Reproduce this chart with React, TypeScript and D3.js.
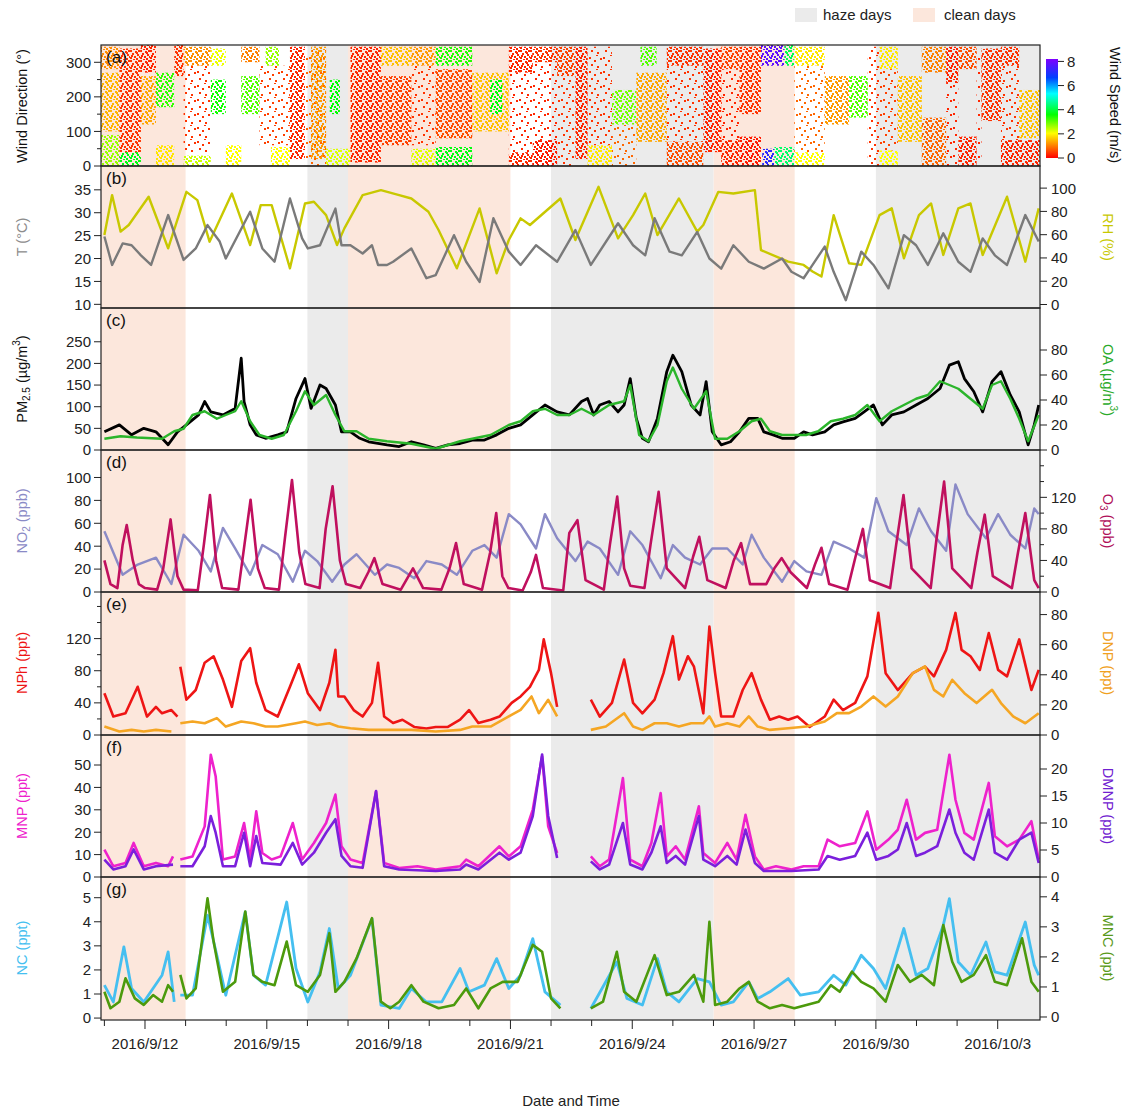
import React from 'react';
import * as d3 from 'd3';

type P = [number, number | null];

// ---------- time frame (day offsets counted from 2016-09-11 00:00) ----------
const START = new Date(2016, 8, 11, 0, 0);
const DOMAIN_START = new Date(2016, 8, 10, 22, 0);
const DOMAIN_END = new Date(2016, 9, 4, 1, 0);
const FIRST_MAJOR = new Date(2016, 8, 12);

const cleanPeriods: [number, number][] = [[-0.1, 2], [6, 10], [15, 17]];
const hazePeriods: [number, number][] = [[5, 6], [11, 15], [19, 23.1]];

// ---------- tick values ----------
const wdTicks = [0, 100, 200, 300];
const wdMinor = [50, 150, 250];
const tTicks = [10, 15, 20, 25, 30, 35];
const rhTicks = [0, 20, 40, 60, 80, 100];
const pmTicks = [0, 50, 100, 150, 200, 250];
const oaTicks = [0, 20, 40, 60, 80];
const no2Ticks = [0, 20, 40, 60, 80, 100];
const o3Ticks = [0, 40, 80, 120];
const o3Minor = [20, 60, 100, 140, 160];
const nphTicks = [0, 40, 80, 120];
const nphMinor = [20, 60, 100, 140, 160];
const dnpTicks = [0, 20, 40, 60, 80];
const mnpTicks = [0, 10, 20, 30, 40, 50];
const dmnpTicks = [0, 5, 10, 15, 20];
const ncTicks = [0, 1, 2, 3, 4, 5];
const mncTicks = [0, 1, 2, 3, 4];
const speedTicks = [0, 2, 4, 6, 8];
const speedStops = [0, 1, 2, 3.5, 5.2, 6.5, 8];
const speedColors = ['#ff0000', '#ff8000', '#ffff00', '#00ff00', '#00ffff', '#0040ff', '#7f00ff'];

// ---------- wind: dense clusters [dayStart, dayEnd, dirLow, dirHigh, speed m/s] ----------
const windSegments: [number, number, number, number, number][] = [
  [-0.1, 0.37, 0, 90, 2.6], [-0.1, 0.37, 100, 270, 1.4], [-0.1, 0.37, 280, 345, 1.1],
  [0.37, 0.9, 20, 340, 0.4], [0.37, 0.9, 0, 40, 3.6],
  [0.9, 1.27, 270, 350, 0.3], [0.9, 1.27, 120, 260, 1.3],
  [1.27, 1.72, 170, 270, 3.2], [1.27, 1.72, 0, 60, 1.8],
  [1.72, 1.95, 260, 350, 0.4],
  [1.95, 2.62, 290, 345, 1.1], [1.95, 2.62, 0, 30, 2.3],
  [2.62, 2.99, 150, 250, 3.4], [2.62, 2.99, 290, 340, 2.1],
  [2.99, 3.37, 0, 60, 2.0],
  [3.37, 3.82, 150, 260, 3.0], [3.37, 3.82, 300, 345, 1.0],
  [3.97, 4.3, 290, 345, 2.6], [4.1, 4.57, 0, 55, 2.0],
  [4.57, 4.94, 20, 345, 0.3],
  [5.09, 5.46, 20, 345, 1.2],
  [5.46, 6.06, 0, 50, 2.2], [5.55, 5.8, 150, 250, 3.5],
  [6.06, 6.81, 10, 345, 0.3],
  [6.81, 7.56, 290, 345, 1.5], [6.81, 7.56, 60, 260, 0.5],
  [7.56, 8.16, 290, 345, 1.2], [7.56, 8.16, 0, 50, 2.2],
  [8.16, 9.06, 290, 345, 3.3], [8.16, 9.06, 0, 55, 3.6], [8.16, 9.06, 80, 280, 0.6],
  [9.06, 9.96, 100, 270, 1.5], [9.5, 9.8, 150, 250, 3.5],
  [9.96, 10.55, 270, 345, 0.3], [9.96, 10.55, 0, 40, 0.3],
  [10.55, 11.15, 0, 75, 0.2], [10.55, 11.15, 300, 345, 0.4],
  [11.15, 11.6, 260, 345, 0.5], [11.6, 11.9, 20, 345, 0.3],
  [11.9, 12.5, 0, 60, 1.8],
  [12.5, 13.1, 120, 220, 2.8],
  [13.1, 13.85, 70, 270, 1.3], [13.2, 13.6, 290, 345, 3.0],
  [13.85, 14.75, 290, 345, 0.4], [13.85, 14.75, 0, 70, 0.6],
  [14.75, 15.19, 40, 340, 0.3],
  [15.19, 15.64, 0, 75, 0.3], [15.19, 15.64, 280, 345, 0.5],
  [15.64, 16.17, 0, 85, 0.2], [15.64, 16.17, 150, 345, 0.4],
  [16.17, 16.75, 290, 350, 7.6], [16.75, 16.99, 290, 350, 4.0],
  [16.2, 16.5, 0, 50, 7.0], [16.5, 16.99, 0, 55, 4.2],
  [16.99, 17.74, 290, 345, 1.8], [16.99, 17.74, 0, 40, 2.0],
  [17.74, 18.34, 120, 260, 1.2], [18.34, 18.8, 140, 260, 3.0],
  [19.09, 19.54, 280, 345, 1.8], [19.09, 19.54, 0, 45, 2.0],
  [19.54, 20.13, 70, 260, 1.5],
  [20.13, 20.73, 270, 345, 1.0], [20.13, 20.73, 0, 140, 0.8],
  [20.73, 21.03, 240, 345, 0.3],
  [21.03, 21.48, 0, 85, 0.3], [21.03, 21.48, 280, 345, 0.6],
  [21.6, 22.08, 130, 340, 0.4],
  [22.08, 22.53, 290, 345, 0.4], [22.08, 22.53, 0, 75, 0.3],
  [22.53, 23.1, 80, 220, 1.5], [22.53, 23.1, 0, 75, 0.3],
];
// ---------- wind: thinly scattered points, same layout ----------
const windSparse: [number, number, number, number, number][] = [
  [1.95, 2.62, 40, 290, 0.4], [3.82, 4.57, 60, 290, 0.5], [4.94, 5.46, 0, 345, 0.8],
  [7.56, 8.16, 60, 290, 0.4], [9.96, 10.55, 40, 270, 0.3], [10.55, 11.15, 75, 300, 0.3],
  [11.15, 11.6, 0, 260, 0.4], [11.9, 12.5, 60, 345, 0.4], [12.5, 13.1, 0, 120, 0.8],
  [13.85, 14.75, 70, 290, 0.4], [15.19, 15.64, 75, 280, 0.3], [16.99, 17.74, 40, 290, 0.8],
  [18.8, 19.09, 0, 345, 0.4], [19.09, 19.54, 45, 280, 0.5], [20.73, 21.03, 0, 240, 0.3],
  [21.48, 21.6, 0, 345, 0.3], [22.08, 22.53, 75, 290, 0.4],
];

// ---------- (b) T (°C), RH (%) ----------
const tempC: P[] = [[0,24.8],[0.19,18.6],[0.45,23.3],[0.67,22.9],[0.9,20.7],[1.15,18.6],[1.57,29.5],[1.95,19.7],[2.25,22.2],[2.54,27.3],[2.84,23.7],[2.99,20],[3.59,30.2],[3.89,22.2],[4.19,19.3],[4.57,33.1],[4.87,24.4],[5.01,22.2],[5.31,22.9],[5.69,30.9],[5.84,22.9],[6.06,22.9],[6.36,21.1],[6.59,22.9],[6.74,18.6],[6.96,18.6],[7.11,19.3],[7.56,22.2],[7.93,15.7],[8.16,16.4],[8.61,25.1],[8.91,19.3],[9.24,14.9],[9.58,28.8],[9.96,21.5],[10.25,18.6],[10.63,22.9],[11.15,19.3],[11.6,26.2],[11.98,18.6],[12.65,27.7],[13.02,22.9],[13.32,20.7],[13.55,28.8],[13.92,21.5],[14.22,20.7],[14.6,25.8],[14.9,20],[15.19,17.8],[15.49,22.9],[15.87,19.3],[16.24,17.8],[16.69,20],[16.92,17.1],[17.22,15.7],[17.44,18.6],[17.74,22.6],[17.96,17.1],[18.26,10.9],[18.64,21.5],[18.94,18.6],[19.31,13.5],[19.69,25.1],[19.99,22.9],[20.28,18.6],[20.66,25.5],[21.03,19.3],[21.33,17.1],[21.63,24.4],[21.93,20.7],[22.23,18.6],[22.68,29.5],[23.01,23.7]];
const rhPct: P[] = [[0,59.7],[0.19,94],[0.4,62.6],[0.6,68.3],[1.09,92.6],[1.57,48.3],[2.02,96.8],[2.29,89.7],[2.59,54],[3.14,95.4],[3.59,51.1],[3.85,85.4],[4.12,85.4],[4.57,31.1],[4.94,86.8],[5.16,88.3],[5.46,76.8],[5.73,51.1],[5.91,65.4],[6.36,94],[6.81,98.3],[7.26,94],[7.56,91.1],[7.98,79.7],[8.23,64],[8.68,31.1],[9.24,82.6],[9.66,26.8],[9.96,55.4],[10.25,74],[10.48,68.3],[11.23,91.1],[11.6,55.4],[12.17,101.1],[12.65,56.8],[13.02,76.8],[13.32,95.4],[13.62,59.7],[14.15,91.1],[14.6,62.6],[14.75,68.3],[15.12,96.8],[15.49,95.4],[16.02,98.3],[16.17,46.8],[16.84,36.8],[17.22,34],[17.44,28.3],[17.66,24],[17.96,76.8],[18.34,35.4],[18.64,34],[19.09,76.8],[19.39,82.6],[19.69,39.7],[20.06,76.8],[20.36,86.8],[20.66,42.6],[21.03,82.6],[21.33,86.8],[21.63,42.6],[22.23,92.6],[22.68,36.8],[23.01,82.6]];

// ---------- (c) PM2.5, OA (µg/m3) ----------
const pm25: P[] = [[0,42],[0.37,58],[0.67,35],[0.97,50],[1.27,42],[1.57,12],[1.8,42],[2.02,58],[2.32,81],[2.47,112],[2.62,88],[2.92,81],[3.22,96],[3.37,212],[3.44,112],[3.59,58],[3.74,35],[3.97,27],[4.27,35],[4.49,42],[4.72,119],[4.94,165],[5.09,96],[5.31,150],[5.46,142],[5.69,104],[5.84,42],[6.06,42],[6.29,27],[6.51,19],[6.96,12],[7.26,8],[7.56,19],[7.86,12],[8.16,4],[8.46,12],[8.76,15],[9.06,23],[9.36,23],[9.66,35],[9.96,50],[10.25,58],[10.55,81],[10.85,104],[11.15,88],[11.45,81],[11.75,112],[11.9,119],[12.05,81],[12.2,104],[12.43,112],[12.65,88],[12.8,104],[12.95,165],[13.1,73],[13.25,27],[13.4,19],[13.62,73],[13.85,181],[14,219],[14.22,181],[14.45,104],[14.67,81],[14.82,158],[14.97,42],[15.19,12],[15.42,19],[15.64,42],[15.87,73],[16.09,73],[16.24,42],[16.47,35],[16.69,27],[16.99,27],[17.22,42],[17.44,35],[17.74,42],[17.96,58],[18.19,65],[18.49,73],[18.71,88],[18.94,104],[19.16,58],[19.39,81],[19.69,88],[19.99,104],[20.28,119],[20.58,142],[20.81,196],[21.03,204],[21.18,165],[21.41,135],[21.63,88],[21.86,158],[22.08,181],[22.31,127],[22.53,88],[22.75,12],[22.9,58],[23.01,104]];
const oaConc: P[] = [[0,9],[0.4,11],[0.8,10],[1.42,9],[1.72,15],[1.95,17],[2.17,28],[2.47,31],[2.77,25],[2.99,28],[3.22,31],[3.37,39],[3.59,23],[3.82,12],[4.12,9],[4.42,12],[4.72,31],[4.94,47],[5.16,36],[5.46,44],[5.69,28],[5.91,15],[6.21,15],[6.51,9],[6.96,7],[7.56,5],[8.16,1],[8.76,7],[9.06,9],[9.51,12],[9.96,20],[10.25,23],[10.55,31],[10.85,33],[11.15,28],[11.45,28],[11.75,33],[12.05,28],[12.43,36],[12.8,39],[12.95,52],[13.17,12],[13.4,7],[13.62,20],[13.85,55],[14,66],[14.22,49],[14.52,33],[14.82,47],[15.04,9],[15.34,9],[15.64,15],[15.94,23],[16.17,25],[16.39,15],[16.69,12],[16.99,12],[17.28,12],[17.58,15],[17.89,23],[18.19,25],[18.49,28],[18.79,36],[19.09,23],[19.39,31],[19.69,36],[19.99,41],[20.28,44],[20.58,55],[20.81,52],[21.03,49],[21.33,41],[21.63,33],[21.86,52],[22.08,55],[22.31,41],[22.53,25],[22.75,7],[23.01,28]];

// ---------- (d) NO2, O3 (ppb) ----------
const no2: P[] = [[0,53],[0.45,15],[0.82,24],[1.27,30],[1.65,7],[1.95,50],[2.32,36],[2.62,18],[2.92,56],[3.22,38],[3.59,15],[3.89,41],[4.27,33],[4.64,9],[4.94,36],[5.24,27],[5.61,9],[5.91,24],[6.21,33],[6.66,15],[6.96,24],[7.26,21],[7.63,12],[7.93,27],[8.31,24],[8.68,15],[9.06,36],[9.36,41],[9.66,30],[9.96,68],[10.25,59],[10.63,38],[10.85,68],[11.15,47],[11.6,27],[11.9,44],[12.2,38],[12.65,15],[12.95,53],[13.25,41],[13.7,12],[14,41],[14.3,30],[14.67,24],[14.97,38],[15.34,38],[15.72,24],[15.94,50],[16.24,30],[16.69,9],[16.99,27],[17.29,18],[17.66,15],[17.96,44],[18.34,38],[18.71,30],[19.01,82],[19.31,53],[19.76,41],[20.06,73],[20.36,53],[20.73,36],[20.96,94],[21.26,68],[21.71,47],[22.01,68],[22.31,50],[22.68,38],[22.9,73],[23.01,68]];
const o3: P[] = [[0,40],[0.15,10],[0.32,5],[0.45,60],[0.55,85],[0.7,40],[0.85,10],[1,5],[1.3,3],[1.45,30],[1.63,92],[1.8,20],[1.95,3],[2.3,2],[2.45,60],[2.6,123],[2.75,40],[2.9,5],[3.3,3],[3.45,60],[3.6,117],[3.78,30],[3.95,5],[4.3,3],[4.45,70],[4.62,142],[4.8,50],[4.95,10],[5.3,5],[5.45,80],[5.62,134],[5.8,40],[5.95,10],[6.3,5],[6.5,25],[6.65,43],[6.85,10],[7.3,3],[7.6,30],[7.85,5],[8.3,3],[8.5,30],[8.66,62],[8.85,10],[9.3,3],[9.5,50],[9.65,100],[9.8,20],[9.95,5],[10.3,2],[10.5,25],[10.63,47],[10.8,5],[11.3,2],[11.45,75],[11.65,91],[11.85,15],[12.3,3],[12.45,60],[12.63,121],[12.8,30],[12.95,8],[13.3,5],[13.45,60],[13.65,127],[13.85,30],[14.3,5],[14.5,45],[14.65,70],[14.85,15],[15.3,5],[15.5,40],[15.68,62],[15.9,10],[16.3,10],[16.5,30],[16.68,43],[16.9,25],[17.3,5],[17.5,35],[17.66,56],[17.85,10],[18.3,3],[18.5,45],[18.68,80],[18.85,15],[19.35,5],[19.5,60],[19.68,123],[19.88,30],[20.35,5],[20.5,70],[20.68,140],[20.88,30],[21.35,5],[21.5,50],[21.68,98],[21.88,20],[22.35,5],[22.5,50],[22.68,100],[22.9,15],[23.01,5]];

// ---------- (e) NPh, DNP (ppt) ----------
const nph: P[] = [[0,52],[0.22,23],[0.52,27],[0.82,60],[1.05,23],[1.27,35],[1.42,27],[1.65,31],[1.8,23],[1.84,null],[1.87,85],[2.02,44],[2.25,56],[2.47,90],[2.69,98],[2.92,69],[3.14,35],[3.37,92],[3.59,108],[3.74,65],[3.97,31],[4.27,23],[4.57,60],[4.79,88],[5.01,52],[5.31,31],[5.54,65],[5.69,106],[5.76,48],[5.91,48],[6.14,31],[6.36,23],[6.59,40],[6.74,90],[6.89,23],[7.11,15],[7.34,19],[7.63,10],[7.93,8],[8.16,10],[8.46,10],[8.76,19],[8.98,31],[9.21,15],[9.51,19],[9.73,23],[10.03,40],[10.25,48],[10.48,60],[10.7,81],[10.82,119],[11,77],[11.15,35],[11.5,null],[11.98,44],[12.2,23],[12.5,40],[12.8,94],[13.02,40],[13.25,27],[13.55,44],[13.77,77],[14,123],[14.15,69],[14.37,98],[14.52,85],[14.75,27],[14.9,135],[15.04,77],[15.19,23],[15.49,23],[15.72,56],[15.94,77],[16.17,44],[16.39,19],[16.62,23],[16.84,19],[17.07,23],[17.37,10],[17.74,23],[17.96,44],[18.19,31],[18.49,40],[18.79,73],[19.06,152],[19.24,77],[19.54,56],[19.91,77],[20.21,85],[20.43,73],[20.73,106],[20.96,152],[21.11,106],[21.33,98],[21.56,81],[21.78,127],[22.01,81],[22.23,73],[22.53,119],[22.83,56],[23.01,81]];
const dnp: P[] = [[0,5.6],[0.37,2.3],[0.67,3.4],[0.97,2.3],[1.27,3.4],[1.65,2.3],[1.84,null],[1.87,7.8],[2.17,9],[2.47,7.8],[2.77,11.2],[2.99,5.6],[3.37,9],[3.67,7.8],[3.97,5.6],[4.27,5.6],[4.72,7.8],[4.94,9],[5.24,6.7],[5.54,7.8],[5.76,5.6],[6.06,4.5],[6.51,3.4],[6.96,3.4],[7.56,3.4],[8.16,2.3],[8.76,3.4],[9.06,5.6],[9.51,5.6],[9.96,12.3],[10.25,16.7],[10.52,25.6],[10.7,14.5],[10.93,23.4],[11.15,12.3],[11.5,null],[11.98,3.4],[12.35,5.6],[12.8,14.5],[13.02,5.6],[13.25,3.4],[13.55,7.8],[13.85,7.8],[14.15,5.6],[14.45,7.8],[14.75,7.8],[14.9,12.3],[15.04,5.6],[15.34,7.8],[15.64,5.6],[15.87,12.3],[16.09,5.6],[16.39,3.4],[16.84,4.5],[17.29,5.6],[17.74,9],[18.04,14.5],[18.34,14.5],[18.64,18.9],[18.94,25.6],[19.24,18.9],[19.54,25.6],[19.91,41.1],[20.21,45.6],[20.43,30],[20.66,25.6],[20.88,36.7],[21.18,27.8],[21.48,21.2],[21.86,30],[22.08,21.2],[22.38,12.3],[22.68,7.8],[23.01,14.5]];

// ---------- (f) MNP, DMNP (ppt) ----------
const mnp: P[] = [[0,12.2],[0.22,4.8],[0.52,6.3],[0.72,15.2],[0.97,4.8],[1.27,6.3],[1.57,4.8],[1.69,9.2],[1.78,null],[1.87,7.8],[2.17,9.2],[2.47,22.6],[2.62,54.6],[2.74,45],[2.92,7.8],[3.22,9.2],[3.44,24.1],[3.59,7.8],[3.74,29.3],[3.89,10.7],[4.12,7.8],[4.34,9.2],[4.64,24.1],[4.87,7.8],[5.16,15.2],[5.46,24.1],[5.69,36.8],[5.84,13.7],[6.06,7.8],[6.36,6.3],[6.69,38.3],[6.89,6.3],[7.26,4],[7.71,4.8],[8.16,3.3],[8.76,4.8],[8.91,7.8],[9.21,4.8],[9.73,13.7],[9.96,9.2],[10.25,13.7],[10.55,30.1],[10.78,53.9],[10.93,22.6],[11.15,10.7],[11.5,null],[11.98,9.2],[12.2,4.8],[12.43,7.8],[12.77,44.2],[12.95,7.8],[13.25,4.8],[13.47,15.2],[13.7,37.5],[13.85,9.2],[14.07,13.7],[14.3,7.8],[14.64,31.6],[14.75,10.7],[15.04,6.3],[15.34,15.2],[15.57,7.8],[15.79,27.8],[16.02,9.2],[16.24,3.3],[16.54,4.8],[16.92,3.3],[17.22,4.8],[17.59,4.8],[17.81,16.7],[18.11,13.7],[18.49,15.2],[18.79,29.3],[19.01,12.2],[19.31,16.7],[19.54,21.1],[19.76,34.5],[19.99,16.7],[20.21,19.7],[20.51,21.1],[20.81,54.6],[20.96,34.5],[21.18,19.7],[21.41,16.7],[21.78,42],[21.93,18.2],[22.23,13.7],[22.53,16.7],[22.83,24.9],[23.01,7.8]];
const dmnp: P[] = [[0,3.2],[0.22,1.4],[0.52,2],[0.72,5.1],[0.97,1.4],[1.27,2],[1.69,2.3],[1.78,null],[1.87,2],[2.17,2],[2.47,5.7],[2.62,11.3],[2.74,8.2],[2.92,2],[3.22,2],[3.44,8.2],[3.59,2],[3.74,7.6],[3.89,2.6],[4.34,2.3],[4.64,6.3],[4.87,2.3],[5.16,4.5],[5.46,8.2],[5.69,10.7],[5.84,3.9],[6.06,2],[6.36,1.7],[6.69,15.9],[6.89,2],[7.26,1.4],[8.16,1.1],[8.76,1.4],[8.91,2.3],[9.21,1.4],[9.73,4.5],[9.96,3.2],[10.25,4.5],[10.55,11.3],[10.78,22.7],[10.93,11.3],[11.15,3.5],[11.5,null],[11.98,2.9],[12.2,1.4],[12.43,2.3],[12.77,10],[12.95,2.3],[13.25,1.4],[13.47,4.5],[13.7,9.4],[13.85,2.6],[14.07,3.9],[14.3,2.3],[14.64,11.3],[14.75,3.2],[15.04,2],[15.34,3.9],[15.57,2.3],[15.79,8.8],[16.02,2.6],[16.24,1.1],[16.92,1.1],[17.59,1.4],[17.81,3.9],[18.11,3.2],[18.49,3.9],[18.79,8.2],[19.01,3.2],[19.31,3.9],[19.54,5.1],[19.76,10],[19.99,3.9],[20.21,4.5],[20.51,5.7],[20.81,12.5],[20.96,8.2],[21.18,4.5],[21.41,3.2],[21.78,12.5],[21.93,4.5],[22.23,3.2],[22.53,6.9],[22.83,8.2],[23.01,2.6]];

// ---------- (g) NC, MNC (ppt) ----------
const nc: P[] = [[0,1.37],[0.22,0.67],[0.48,2.96],[0.67,1.23],[0.97,0.67],[1.42,1.78],[1.57,2.75],[1.72,0.67],[1.8,null],[1.87,0.95],[2.17,0.95],[2.54,4.27],[2.77,2.61],[2.99,0.95],[3.47,4.41],[3.67,1.78],[3.97,1.37],[4.49,4.82],[4.72,2.06],[5.01,0.67],[5.31,1.92],[5.54,3.72],[5.76,1.23],[6.06,1.78],[6.59,4.13],[6.81,0.54],[7.26,0.4],[7.56,1.23],[7.93,0.67],[8.31,0.67],[8.76,2.06],[8.98,1.09],[9.36,1.37],[9.66,2.47],[9.96,1.23],[10.25,1.78],[10.55,3.3],[10.85,1.09],[11.23,0.54],[11.5,null],[11.98,0.4],[12.62,2.33],[12.87,0.81],[13.25,0.54],[13.62,2.47],[13.85,1.09],[14.15,0.67],[14.6,1.64],[14.9,1.5],[15.19,0.54],[15.49,0.67],[15.87,1.5],[16.09,0.81],[16.39,1.09],[16.84,1.64],[17.14,0.95],[17.59,1.09],[17.96,1.78],[18.26,1.37],[18.64,2.61],[18.94,2.06],[19.24,1.23],[19.69,3.72],[19.99,1.78],[20.28,2.06],[20.66,3.86],[20.81,4.96],[21.03,2.33],[21.33,1.78],[21.71,3.16],[21.93,1.92],[22.23,1.78],[22.68,3.99],[22.9,2.2],[23.01,1.78]];
const mnc: P[] = [[0,0.84],[0.15,0.29],[0.37,0.51],[0.52,1.29],[0.75,0.62],[0.97,0.4],[1.2,0.73],[1.42,0.51],[1.57,1.06],[1.69,0.84],[1.78,null],[1.87,1.4],[2.02,0.62],[2.25,0.95],[2.54,3.95],[2.69,2.51],[2.92,0.84],[3.22,1.17],[3.47,3.51],[3.67,1.4],[3.89,1.17],[4.19,1.06],[4.49,2.51],[4.72,1.06],[5.01,0.84],[5.31,1.4],[5.54,2.79],[5.69,0.84],[5.91,1.17],[6.21,1.95],[6.59,3.29],[6.81,0.51],[7.04,0.29],[7.26,0.51],[7.56,1.06],[7.86,0.51],[8.23,0.29],[8.61,0.4],[8.91,0.95],[9.21,0.29],[9.51,0.95],[9.81,1.17],[10.18,1.17],[10.55,2.4],[10.78,2.17],[11,0.62],[11.23,0.29],[11.5,null],[11.98,0.29],[12.28,0.51],[12.62,2.17],[12.8,0.84],[13.1,0.51],[13.55,2.06],[13.85,0.73],[14.15,0.84],[14.52,1.4],[14.75,0.51],[14.9,3.17],[15.04,0.4],[15.34,0.51],[15.64,0.95],[15.87,1.17],[16.09,0.51],[16.39,0.29],[16.69,0.4],[16.99,0.29],[17.29,0.4],[17.59,0.51],[17.89,1.06],[18.11,0.84],[18.41,1.51],[18.64,1.17],[18.94,0.95],[19.24,0.51],[19.54,1.73],[19.84,1.17],[20.13,1.4],[20.43,1.06],[20.66,3.06],[20.88,1.84],[21.11,1.17],[21.41,1.4],[21.71,2.06],[21.93,1.17],[22.23,1.06],[22.6,2.62],[22.83,1.17],[23.01,0.84]];

// ---------- layout ----------
const L = 101, R = 1040;
const FONT = 'Liberation Sans, Arial, Helvetica, sans-serif';
const COL = {
  haze: '#ebebeb', clean: '#fce7dc', T: '#7a7a7a', RH: '#c8c800', PM: '#000000', OA: '#2bb52b',
  NO2: '#8a8ac6', O3: '#c0105e', NPh: '#ee1515', DNP: '#f5a623', MNP: '#ee22cc', DMNP: '#7b1fdc',
  NC: '#45bff0', MNC: '#4c9a0c',
};
// stipple masks used to render the wind scatter as dots (texture only)
const denseDots: [number, number][] = [[0, 0], [5, 1], [2, 3], [7, 4], [4, 6], [0, 7], [6, 8], [3, 9], [8, 0], [1, 5], [9, 6], [6, 2]];
const sparseDots: [number, number][] = [[1, 1], [6, 4], [3, 8], [9, 10], [12, 2], [8, 13]];

const day = (d: number) => new Date(START.getTime() + d * 86400000);
const x = d3.scaleTime().domain([DOMAIN_START, DOMAIN_END]).range([L, R]);
const speedColor = d3.scaleLinear<string>().domain(speedStops).range(speedColors).clamp(true);

const panels = [
  { id: 'a', top: 45, bottom: 166 },
  { id: 'b', top: 166, bottom: 308 },
  { id: 'c', top: 308, bottom: 450 },
  { id: 'd', top: 450, bottom: 592 },
  { id: 'e', top: 592, bottom: 735 },
  { id: 'f', top: 735, bottom: 877 },
  { id: 'g', top: 877, bottom: 1020 },
];

const yWD = d3.scaleLinear().domain([0, 350]).range([166, 45]);
const yT = d3.scaleLinear().domain([9.2, 40.2]).range([308, 166]);
const yRH = d3.scaleLinear().domain([-3, 119]).range([308, 166]);
const yPM = d3.scaleLinear().domain([0, 328]).range([450, 308]);
const yOA = d3.scaleLinear().domain([0, 113.6]).range([450, 308]);
const yNO2 = d3.scaleLinear().domain([0, 124]).range([592, 450]);
const yO3 = d3.scaleLinear().domain([0, 180]).range([592, 450]);
const yNPh = d3.scaleLinear().domain([0, 178]).range([735, 592]);
const yDNP = d3.scaleLinear().domain([0, 95]).range([735, 592]);
const yMNP = d3.scaleLinear().domain([0, 63.4]).range([877, 735]);
const yDMNP = d3.scaleLinear().domain([0, 26.3]).range([877, 735]);
const yNC = d3.scaleLinear().domain([-0.08, 5.86]).range([1020, 877]);
const yMNC = d3.scaleLinear().domain([-0.1, 4.66]).range([1020, 877]);
const ySpeed = d3.scaleLinear().domain([0, 8.2]).range([158, 59]);

function seriesPath(data: P[], y: d3.ScaleLinear<number, number>) {
  const gen = d3.line<P>()
    .defined((p) => p[1] !== null)
    .x((p) => x(day(p[0])))
    .y((p) => y(p[1] as number));
  return gen(data) || '';
}

function LeftAxis({ y, ticks, minor = [] as number[], k }: any) {
  return (
    <g>
      {ticks.map((t: number) => (
        <g key={`${k}L${t}`}>
          <line x1={L - 7} x2={L} y1={y(t)} y2={y(t)} stroke="#222" strokeWidth={1} />
          <text x={L - 10} y={y(t)} dy="0.36em" textAnchor="end" fontSize={15} fill="#222">{t}</text>
        </g>
      ))}
      {minor.map((t: number) => (
        <line key={`${k}Lm${t}`} x1={L - 4} x2={L} y1={y(t)} y2={y(t)} stroke="#222" strokeWidth={1} />
      ))}
    </g>
  );
}

function RightAxis({ y, ticks, minor = [] as number[], k }: any) {
  return (
    <g>
      {ticks.map((t: number) => (
        <g key={`${k}R${t}`}>
          <line x1={R} x2={R + 7} y1={y(t)} y2={y(t)} stroke="#222" strokeWidth={1} />
          <text x={R + 11} y={y(t)} dy="0.36em" textAnchor="start" fontSize={15} fill="#222">{t}</text>
        </g>
      ))}
      {minor.map((t: number) => (
        <line key={`${k}Rm${t}`} x1={R} x2={R + 4} y1={y(t)} y2={y(t)} stroke="#222" strokeWidth={1} />
      ))}
    </g>
  );
}

function LeftTitle({ cy, color, children }: any) {
  return (
    <text transform={`translate(27,${cy}) rotate(-90)`} textAnchor="middle" fontSize={14.5} fill={color}>{children}</text>
  );
}
function RightTitle({ cy, color, children }: any) {
  return (
    <text transform={`translate(1103,${cy}) rotate(90)`} textAnchor="middle" fontSize={14.5} fill={color}>{children}</text>
  );
}

export default function App() {
  const allDays = d3.timeDay.range(new Date(2016, 8, 11), new Date(2016, 9, 4));
  const isMajor = (dd: Date) => {
    const n = Math.round((dd.getTime() - FIRST_MAJOR.getTime()) / 86400000);
    return n >= 0 && n % 3 === 0;
  };
  const fmt = (dd: Date) => `${dd.getFullYear()}/${dd.getMonth() + 1}/${dd.getDate()}`;

  const line = (data: P[], y: any, color: string, w = 2.2) => (
    <path d={seriesPath(data, y)} fill="none" stroke={color} strokeWidth={w} strokeLinejoin="round" />
  );
  const windRects = (segs: [number, number, number, number, number][], tag: string) =>
    segs.map(([d0, d1, lo, hi, sp], i) => (
      <rect key={`${tag}${i}`} x={x(day(d0))} width={x(day(d1)) - x(day(d0))} y={yWD(hi)} height={yWD(lo) - yWD(hi)} fill={speedColor(sp)} />
    ));

  return (
    <svg width={1129} height={1111} style={{ position: 'absolute', left: 0, top: 0, background: '#fff' }} fontFamily={FONT}>
      <defs>
        <pattern id="stipDense" width={10} height={10} patternUnits="userSpaceOnUse">
          {denseDots.map(([sx, sy], i) => (
            <rect key={i} x={sx} y={sy} width={2} height={2} fill="#fff" />
          ))}
        </pattern>
        <pattern id="stipSparse" width={14} height={14} patternUnits="userSpaceOnUse">
          {sparseDots.map(([sx, sy], i) => (
            <rect key={i} x={sx} y={sy} width={2} height={2} fill="#fff" />
          ))}
        </pattern>
        <mask id="windMaskDense">
          <rect x={L} y={45} width={R - L} height={121} fill="url(#stipDense)" />
        </mask>
        <mask id="windMaskSparse">
          <rect x={L} y={45} width={R - L} height={121} fill="url(#stipSparse)" />
        </mask>
        <linearGradient id="speedGrad" x1="0" y1="1" x2="0" y2="0">
          {speedStops.map((s, i) => (
            <stop key={s} offset={`${(s / 8) * 100}%`} stopColor={speedColors[i]} />
          ))}
        </linearGradient>
        {panels.map((p) => (
          <clipPath id={`clip${p.id}`} key={p.id}>
            <rect x={L} y={p.top} width={R - L} height={p.bottom - p.top} />
          </clipPath>
        ))}
      </defs>

      {/* legend */}
      <rect x={795} y={8} width={22} height={14} fill={COL.haze} />
      <text x={823} y={20} fontSize={15} fill="#222">haze days</text>
      <rect x={913} y={8} width={22} height={14} fill={COL.clean} />
      <text x={944} y={20} fontSize={15} fill="#222">clean days</text>

      {/* shaded periods */}
      <g>
        {cleanPeriods.map(([a, b], i) => (
          <rect key={`c${i}`} x={Math.max(L, x(day(a)))} y={45} width={Math.min(R, x(day(b))) - Math.max(L, x(day(a)))} height={975} fill={COL.clean} />
        ))}
        {hazePeriods.map(([a, b], i) => (
          <rect key={`h${i}`} x={Math.max(L, x(day(a)))} y={45} width={Math.min(R, x(day(b))) - Math.max(L, x(day(a)))} height={975} fill={COL.haze} />
        ))}
      </g>

      {/* (a) wind */}
      <g clipPath="url(#clipa)">
        <g mask="url(#windMaskSparse)">{windRects(windSparse, 's')}</g>
        <g mask="url(#windMaskDense)">{windRects(windSegments, 'd')}</g>
      </g>

      {/* (b) */}
      <g clipPath="url(#clipb)">
        {line(rhPct, yRH, COL.RH, 2.4)}
        {line(tempC, yT, COL.T, 2.4)}
      </g>
      {/* (c) */}
      <g clipPath="url(#clipc)">
        {line(pm25, yPM, COL.PM, 2.8)}
        {line(oaConc, yOA, COL.OA, 2.4)}
      </g>
      {/* (d) */}
      <g clipPath="url(#clipd)">
        {line(no2, yNO2, COL.NO2, 2.4)}
        {line(o3, yO3, COL.O3, 2.6)}
      </g>
      {/* (e) */}
      <g clipPath="url(#clipe)">
        {line(nph, yNPh, COL.NPh, 2.6)}
        {line(dnp, yDNP, COL.DNP, 2.6)}
      </g>
      {/* (f) */}
      <g clipPath="url(#clipf)">
        {line(mnp, yMNP, COL.MNP, 2.6)}
        {line(dmnp, yDMNP, COL.DMNP, 2.6)}
      </g>
      {/* (g) */}
      <g clipPath="url(#clipg)">
        {line(nc, yNC, COL.NC, 2.8)}
        {line(mnc, yMNC, COL.MNC, 2.6)}
      </g>

      {/* frames and panel letters */}
      {panels.map((p) => (
        <g key={`f${p.id}`}>
          <rect x={L} y={p.top} width={R - L} height={p.bottom - p.top} fill="none" stroke="#222" strokeWidth={1.2} />
          <text x={106} y={p.top + 18} fontSize={17} fill="#111">({p.id})</text>
        </g>
      ))}

      {/* axes */}
      <LeftAxis y={yWD} ticks={wdTicks} minor={wdMinor} k="wd" />
      <LeftAxis y={yT} ticks={tTicks} k="t" />
      <RightAxis y={yRH} ticks={rhTicks} k="rh" />
      <LeftAxis y={yPM} ticks={pmTicks} k="pm" />
      <RightAxis y={yOA} ticks={oaTicks} k="oa" />
      <LeftAxis y={yNO2} ticks={no2Ticks} k="no2" />
      <RightAxis y={yO3} ticks={o3Ticks} minor={o3Minor} k="o3" />
      <LeftAxis y={yNPh} ticks={nphTicks} minor={nphMinor} k="nph" />
      <RightAxis y={yDNP} ticks={dnpTicks} k="dnp" />
      <LeftAxis y={yMNP} ticks={mnpTicks} k="mnp" />
      <RightAxis y={yDMNP} ticks={dmnpTicks} k="dmnp" />
      <LeftAxis y={yNC} ticks={ncTicks} k="nc" />
      <RightAxis y={yMNC} ticks={mncTicks} k="mnc" />

      {/* x axis */}
      {allDays.map((dd) => {
        const major = isMajor(dd);
        return (
          <g key={dd.getTime()}>
            <line x1={x(dd)} x2={x(dd)} y1={1020} y2={1020 + (major ? 9 : 6)} stroke="#222" />
            {major && (
              <text x={x(dd)} y={1049} textAnchor="middle" fontSize={15} fill="#222">{fmt(dd)}</text>
            )}
          </g>
        );
      })}
      <text x={571} y={1106} textAnchor="middle" fontSize={15} fill="#222">Date and Time</text>

      {/* colour bar */}
      <rect x={1046} y={59} width={12} height={99} fill="url(#speedGrad)" />
      {speedTicks.map((t) => (
        <g key={`sp${t}`}>
          <line x1={1058} x2={1064} y1={ySpeed(t)} y2={ySpeed(t)} stroke="#222" />
          <text x={1067} y={ySpeed(t)} dy="0.36em" fontSize={15} fill="#222">{t}</text>
        </g>
      ))}
      <text transform="translate(1110,105) rotate(90)" textAnchor="middle" fontSize={14.5} fill="#111">Wind Speed (m/s)</text>

      {/* axis titles */}
      <LeftTitle cy={106} color="#111">Wind Direction (°)</LeftTitle>
      <LeftTitle cy={237} color="#8c8c8c">T (°C)</LeftTitle>
      <LeftTitle cy={379} color="#111">PM<tspan fontSize={10} dy={3}>2.5</tspan><tspan dy={-3}> (µg/m</tspan><tspan fontSize={10} dy={-7}>3</tspan><tspan dy={7}>)</tspan></LeftTitle>
      <LeftTitle cy={521} color="#8a8ac6">NO<tspan fontSize={10} dy={3}>2</tspan><tspan dy={-3}> (ppb)</tspan></LeftTitle>
      <LeftTitle cy={663} color={COL.NPh}>NPh (ppt)</LeftTitle>
      <LeftTitle cy={806} color={COL.MNP}>MNP (ppt)</LeftTitle>
      <LeftTitle cy={948} color={COL.NC}>NC (ppt)</LeftTitle>

      <RightTitle cy={237} color={COL.RH}>RH (%)</RightTitle>
      <RightTitle cy={380} color="#2aaa2a">OA (µg/m<tspan fontSize={10} dy={-7}>3</tspan><tspan dy={7}>)</tspan></RightTitle>
      <RightTitle cy={521} color="#b0105a">O<tspan fontSize={10} dy={3}>3</tspan><tspan dy={-3}> (ppb)</tspan></RightTitle>
      <RightTitle cy={663} color="#f0a020">DNP (ppt)</RightTitle>
      <RightTitle cy={806} color="#7020d0">DMNP (ppt)</RightTitle>
      <RightTitle cy={948} color="#5a9a1a">MNC (ppt)</RightTitle>
    </svg>
  );
}
